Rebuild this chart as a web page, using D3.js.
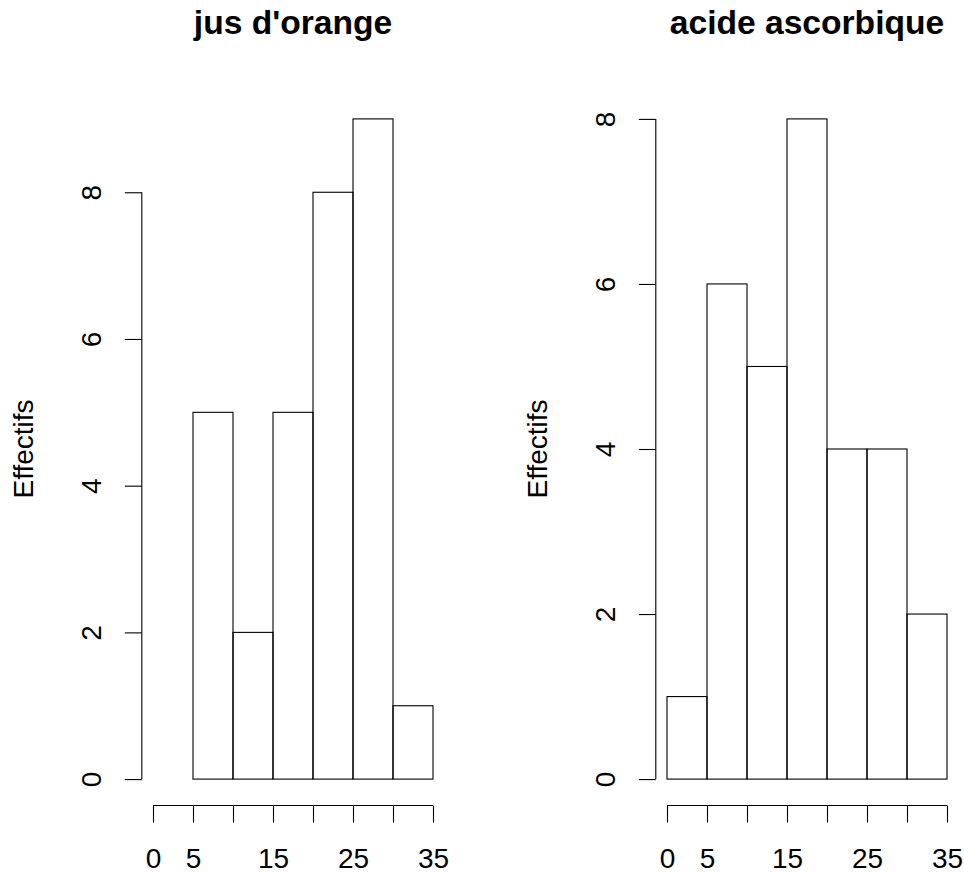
<!DOCTYPE html>
<html>
<head>
<meta charset="utf-8">
<script src="https://cdn.jsdelivr.net/npm/d3@7"></script>
<style>
  html, body { margin: 0; padding: 0; background: #fff; }
  svg text { font-family: "Liberation Sans", Arial, Helvetica, sans-serif; fill: #000; }
</style>
</head>
<body>
<svg id="chart" width="964" height="873"></svg>
<script>
// ---- data ----
const titles = ["jus d'orange", "acide ascorbique"];
const yLabel = "Effectifs";
const breaksOJ = [5, 10, 15, 20, 25, 30, 35];
const countsOJ = [5, 2, 5, 8, 9, 1];
const breaksVC = [0, 5, 10, 15, 20, 25, 30, 35];
const countsVC = [1, 6, 5, 8, 4, 4, 2];
const xTicks = [0, 5, 10, 15, 20, 25, 30, 35];
const xTickLabels = [0, 5, 15, 25, 35];
const yTicks = [0, 2, 4, 6, 8];

const svg = d3.select("#chart");
const FS = 28;

const panels = [
  { title: titles[0], breaks: breaksOJ, counts: countsOJ, ymax: 9, left: 141.8, right: 444.2 },
  { title: titles[1], breaks: breaksVC, counts: countsVC, ymax: 8, left: 655.8, right: 958.2 }
];
const plotTop = 92.5, plotBottom = 805.5;

panels.forEach(p => {
  const g = svg.append("g");
  const x = d3.scaleLinear().domain([-1.4, 36.4]).range([p.left, p.right]);
  const pad = p.ymax * 0.04;
  const y = d3.scaleLinear().domain([-pad, p.ymax + pad]).range([plotBottom, plotTop]);

  const bins = p.counts.map((c, i) => ({ x0: p.breaks[i], x1: p.breaks[i + 1], c }));
  g.selectAll("rect.bar").data(bins).enter().append("rect")
    .attr("class", "bar")
    .attr("x", d => x(d.x0))
    .attr("width", d => x(d.x1) - x(d.x0))
    .attr("y", d => y(d.c))
    .attr("height", d => y(0) - y(d.c))
    .attr("fill", "none")
    .attr("stroke", "#000")
    .attr("stroke-width", 1.1);

  // x axis
  const xAxis = d3.axisBottom(x).tickValues(xTicks).tickSize(17).tickSizeOuter(0)
    .tickFormat(v => xTickLabels.includes(v) ? String(v) : "");
  const xa = g.append("g").attr("transform", `translate(0,${plotBottom})`).call(xAxis);
  xa.select(".domain").remove();
  xa.append("line").attr("x1", x(xTicks[0])).attr("x2", x(xTicks[xTicks.length - 1]))
    .attr("y1", 0).attr("y2", 0).attr("stroke", "#000").attr("stroke-width", 1.1);
  xa.selectAll(".tick line").attr("stroke", "#000").attr("stroke-width", 1.1);
  xa.selectAll(".tick text").attr("y", 62.5).attr("dy", null)
    .style("font-size", FS + "px").attr("fill", "#000")
    .style("font-family", '"Liberation Sans", Arial, sans-serif');

  // y axis
  const yAxis = d3.axisLeft(y).tickValues(yTicks).tickSize(17).tickSizeOuter(0).tickFormat(d3.format("d"));
  const ya = g.append("g").attr("transform", `translate(${p.left},0)`).call(yAxis);
  ya.select(".domain").remove();
  ya.append("line").attr("x1", 0).attr("x2", 0)
    .attr("y1", y(yTicks[0])).attr("y2", y(yTicks[yTicks.length - 1]))
    .attr("stroke", "#000").attr("stroke-width", 1.1);
  ya.selectAll(".tick line").attr("stroke", "#000").attr("stroke-width", 1.1);
  ya.selectAll(".tick text")
    .attr("x", null).attr("dy", null)
    .attr("text-anchor", "middle")
    .attr("transform", "translate(-41,0) rotate(-90)")
    .style("font-size", FS + "px").attr("fill", "#000")
    .style("font-family", '"Liberation Sans", Arial, sans-serif');

  // y label
  g.append("text")
    .attr("transform", `translate(${p.left - 108.7},${(plotTop + plotBottom) / 2}) rotate(-90)`)
    .attr("text-anchor", "middle")
    .style("font-size", FS + "px")
    .text(yLabel);

  // title
  g.append("text")
    .attr("x", (p.left + p.right) / 2)
    .attr("y", 33.5)
    .attr("text-anchor", "middle")
    .style("font-size", (FS * 1.2) + "px")
    .style("font-weight", "bold")
    .text(p.title);
});
</script>
</body>
</html>
